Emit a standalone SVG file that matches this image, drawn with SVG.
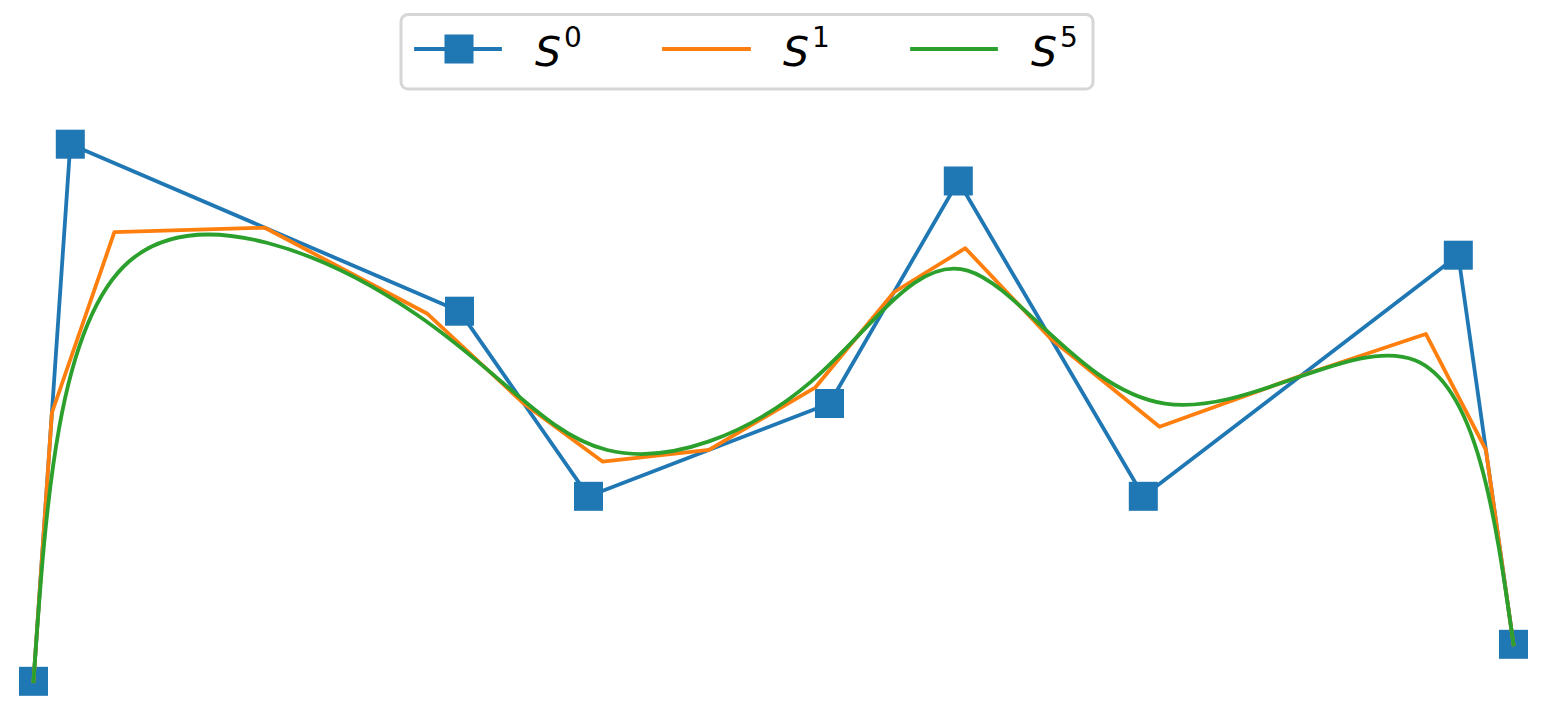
<svg xmlns="http://www.w3.org/2000/svg" width="1552" height="718" viewBox="0 0 1552 718">
<style>
.l{fill:none;stroke-width:3.8;stroke-linejoin:round;stroke-linecap:square}
.s0{stroke:#1f77b4}
.s1{stroke:#ff7f0e}
.s5{stroke:#2ca02c}
.m{fill:#1f77b4}
.t{font-family:"DejaVu Sans",sans-serif;font-size:41px;fill:#000}
</style>
<defs>
<rect id="sq" x="-14.5" y="-14.5" width="29" height="29" class="m"/>
</defs>
<rect width="1552" height="718" fill="#fff"/>
<g id="s0">
<polyline class="l s0" points="33.5,681.3 70.3,144.2 459.5,311.2 588.5,496.3 829.5,403.5 958.3,181 1143.3,496.3 1458.3,255.2 1513.5,644.3"/>
<use href="#sq" x="33.5" y="681.3"/>
<use href="#sq" x="70.3" y="144.2"/>
<use href="#sq" x="459.5" y="311.2"/>
<use href="#sq" x="588.5" y="496.3"/>
<use href="#sq" x="829.5" y="403.5"/>
<use href="#sq" x="958.3" y="181"/>
<use href="#sq" x="1143.3" y="496.3"/>
<use href="#sq" x="1458.3" y="255.2"/>
<use href="#sq" x="1513.5" y="644.3"/>
</g>
<g id="s1">
<polyline class="l s1" points="33.5,681.3 51.9,412.75 114.35,232.21 264.9,227.7 426.98,313.46 524,403.75 602.5,461.56 709,449.9 815.48,387.29 893.9,292.25 965.33,248.23 1050.8,338.65 1159.55,426.75 1300.8,375.75 1425.83,333.98 1485.9,449.75 1513.5,644.3"/>
</g>
<g id="s5">
<path class="l s5" d="M33.5,681.3 C45.77,502.27 58.03,323.23 129.03,261.55 C200.03,199.87 329.77,255.53 416.13,314.22 C502.5,372.9 545.5,434.6 607.17,449.98 C668.83,465.37 749.17,434.43 810.8,381.88 C872.43,329.33 915.37,255.17 967.67,270.63 C1019.97,286.1 1081.63,391.2 1164.97,403.57 C1248.3,415.93 1353.3,335.57 1415,360.23 C1476.7,384.9 1495.1,514.6 1513.5,644.3"/>
</g>
<g id="legend">
<rect x="401" y="14.5" width="692" height="74.5" rx="7" fill="#fff" fill-opacity="0.8" stroke="#d6d6d6" stroke-width="3"/>
<line class="l s0" x1="416" y1="49" x2="500" y2="49"/>
<use href="#sq" x="459" y="49"/>
<text class="t" x="535" y="66"><tspan font-style="italic">S</tspan><tspan font-size="28" dx="3" dy="-19">0</tspan></text>
<line class="l s1" x1="664" y1="49" x2="749" y2="49"/>
<text class="t" x="783" y="66"><tspan font-style="italic">S</tspan><tspan font-size="28" dx="3" dy="-19">1</tspan></text>
<line class="l s5" x1="912" y1="49" x2="996" y2="49"/>
<text class="t" x="1031" y="66"><tspan font-style="italic">S</tspan><tspan font-size="28" dx="3" dy="-19">5</tspan></text>
</g>
</svg>
